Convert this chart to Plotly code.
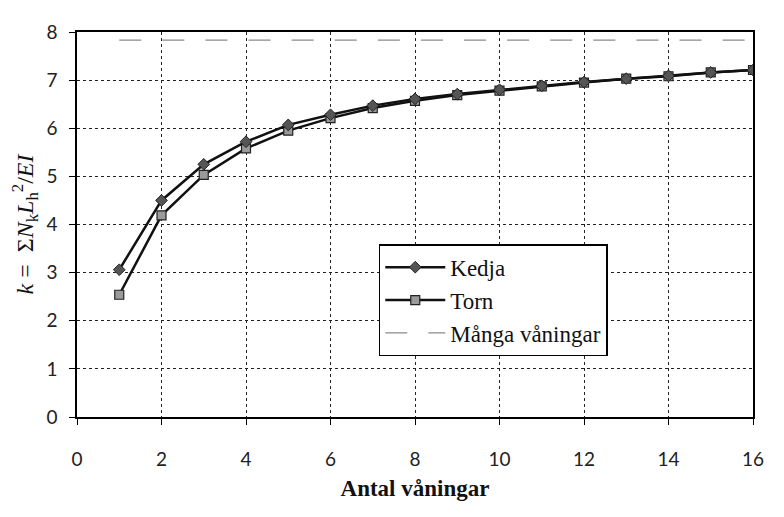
import plotly.graph_objects as go

floors = list(range(1, 17))
kedja = [3.06, 4.50, 5.25, 5.72, 6.07, 6.28, 6.47, 6.61, 6.71, 6.80, 6.88, 6.96, 7.03, 7.09, 7.16, 7.21]
torn = [2.54, 4.19, 5.03, 5.58, 5.95, 6.21, 6.42, 6.57, 6.69, 6.78, 6.87, 6.95, 7.03, 7.08, 7.16, 7.21]
manga = [7.83] * 16

serif = "Liberation Serif"
tickfam = "Lato, Liberation Sans, sans-serif"

fig = go.Figure()
fig.add_trace(go.Scatter(
    x=floors, y=manga, name="Många våningar", mode="lines",
    line=dict(color="#8a8a8a", width=1.3, dash="22px,21.1px"),
))
fig.add_trace(go.Scatter(
    x=floors, y=torn, name="Torn", mode="lines+markers",
    line=dict(color="#111111", width=2.5),
    marker=dict(symbol="square", size=9, color="#9a9a9a", line=dict(color="#222222", width=1.2)),
))
fig.add_trace(go.Scatter(
    x=floors, y=kedja, name="Kedja", mode="lines+markers",
    line=dict(color="#111111", width=2.5),
    marker=dict(symbol="diamond", size=9, color="#555555", line=dict(color="#222222", width=1)),
))

axis_common = dict(
    showline=True, linecolor="black", linewidth=1.5, mirror=True,
    showgrid=True, gridcolor="#222222", griddash="dot", gridwidth=1.2,
    ticks="outside", ticklen=6, tickcolor="black",
    tickfont=dict(family=tickfam, size=19, color="#222222"),
    zeroline=False,
)

fig.update_xaxes(range=[0, 16], dtick=2, ticklabelstandoff=18, **axis_common,
                 title=dict(text="<b>Antal våningar</b>", font=dict(family=serif, size=23, color="#111111"), standoff=11))
fig.update_yaxes(range=[0, 8], dtick=1, ticklabelstandoff=8, **axis_common,
                 title=dict(text="<i>k</i> =  Σ<i>N</i><sub>k</sub><i>L</i><sub>h</sub><sup>2</sup>/<i>EI</i>",
                            font=dict(family=serif, size=24, color="#111111"), standoff=10))

# the page body has an 8px margin; the figure is sized so the page fits the window exactly
# and the plot area lands where the reference has it
fig.update_layout(
    width=768, height=501,
    margin=dict(l=69, r=13, t=15, b=76),
    paper_bgcolor="white", plot_bgcolor="white",
    font=dict(family=serif),
    legend=dict(
        x=0.4464, y=0.4488, xanchor="left", yanchor="top",
        traceorder="reversed",
        bgcolor="white", bordercolor="black", borderwidth=1.5,
        font=dict(family=serif, size=23, color="#111111"),
        itemwidth=60, tracegroupgap=0,
    ),
    showlegend=True,
)

fig.write_html("out.html")
